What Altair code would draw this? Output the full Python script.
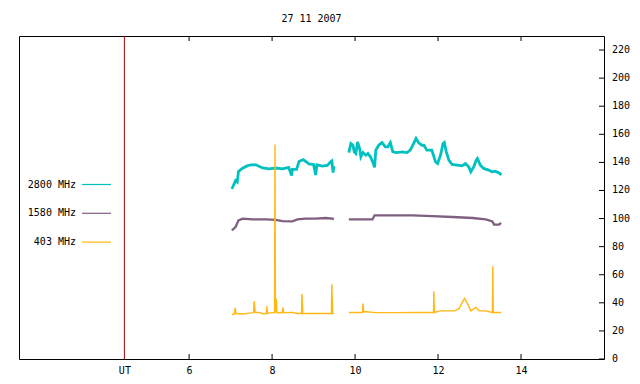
import altair as alt
import pandas as pd

# ---- data (hours UT, solar flux units) ----
t2800_a = [7.03, 7.06, 7.12, 7.16, 7.19, 7.29, 7.40, 7.49, 7.61, 7.77, 7.93, 8.09, 8.25, 8.40, 8.47, 8.49, 8.59,
           8.65, 8.75, 8.89, 9.00, 9.05, 9.08, 9.21, 9.33, 9.40, 9.44, 9.47, 9.49]
v2800_a = [121.2, 123.0, 127.0, 126.0, 133.5, 135.9, 137.5, 138.3, 138.3, 136.0, 135.4, 136.0, 135.4, 136.5, 130.7, 135.0, 135.0,
           140.6, 142.0, 139.0, 138.5, 131.0, 138.3, 137.3, 137.8, 140.1, 141.0, 132.8, 137.3]
t2800_b = [9.85, 9.90, 9.95, 9.98, 10.02, 10.06, 10.11, 10.14, 10.19, 10.26, 10.31, 10.37, 10.43, 10.47, 10.50,
           10.57, 10.65, 10.73, 10.79, 10.85, 10.91, 11.01, 11.13, 11.25, 11.33, 11.41, 11.47, 11.53, 11.61,
           11.66, 11.73, 11.85, 11.94, 11.99, 12.06, 12.12, 12.15, 12.20, 12.26, 12.34, 12.46, 12.58, 12.66,
           12.74, 12.79, 12.86, 12.92, 12.95, 13.02, 13.10, 13.22, 13.30, 13.38, 13.49, 13.52]
v2800_b = [147.0, 153.4, 152.2, 147.5, 146.3, 154.6, 149.9, 144.0, 147.0, 145.1, 146.3, 144.0, 140.0, 136.5, 148.7,
           152.2, 154.1, 151.1, 151.1, 154.1, 147.5, 147.0, 147.5, 147.0, 148.7, 153.4, 157.0, 154.1, 152.2,
           152.2, 148.7, 148.7, 140.3, 139.2, 145.1, 153.4, 154.1, 147.5, 141.6, 138.5, 138.0, 137.5, 139.2,
           136.8, 133.3, 136.8, 141.6, 142.8, 138.0, 135.7, 134.5, 133.3, 133.7, 132.1, 131.0]

t1580_a = [7.03, 7.12, 7.19, 7.29, 7.53, 7.85, 8.09, 8.25, 8.49, 8.61, 8.81, 9.05, 9.29, 9.45, 9.49]
v1580_a = [91.6, 94.0, 98.7, 99.9, 99.4, 99.4, 99.1, 98.2, 98.0, 99.4, 99.9, 99.9, 100.4, 99.9, 99.6]
t1580_b = [9.85, 10.10, 10.42, 10.47, 10.90, 11.38, 11.86, 12.35, 12.83, 13.15, 13.31, 13.35, 13.47, 13.52]
v1580_b = [99.4, 99.4, 99.4, 102.3, 102.3, 102.3, 101.8, 101.1, 100.4, 99.4, 98.0, 95.7, 95.7, 97.0]

t403_a = [7.03, 7.09, 7.11, 7.13, 7.30, 7.45, 7.55, 7.57, 7.59, 7.70, 7.80, 7.86, 7.87, 7.89, 8.00, 8.06, 8.07,
          8.08, 8.10, 8.12, 8.20, 8.25, 8.26, 8.28, 8.50, 8.60, 8.71, 8.72, 8.74, 9.00, 9.20, 9.43, 9.44, 9.46, 9.49]
v403_a = [31.7, 32.0, 36.4, 32.4, 32.0, 32.7, 33.0, 41.2, 33.1, 33.1, 32.0, 32.4, 37.6, 32.4, 33.0, 33.0, 152.7,
          33.0, 43.1, 33.0, 33.1, 33.0, 36.7, 33.0, 33.1, 32.4, 32.4, 46.2, 32.4, 32.4, 32.4, 32.4, 53.3, 32.4, 32.4]
t403_b = [9.85, 10.10, 10.18, 10.19, 10.21, 10.50, 11.00, 11.50, 11.89, 11.90, 11.91, 12.05, 12.40, 12.51,
          12.59, 12.64, 12.71, 12.79, 12.91, 12.99, 13.15, 13.31, 13.32, 13.33, 13.52]
v403_b = [33.1, 33.1, 33.1, 39.5, 33.8, 33.0, 33.0, 33.1, 33.1, 48.3, 33.1, 34.3, 34.3, 36.0,
          40.7, 43.1, 39.5, 34.3, 36.7, 34.3, 34.3, 33.1, 66.0, 33.1, 33.1]

series_names = ["2800 MHz", "1580 MHz", "403 MHz"]
series_colors = ["#00C0C0", "#7F5F80", "#FFB814"]
x_tick_values = [4.44, 6, 8, 10, 12, 14]
y_tick_values = [0, 20, 40, 60, 80, 100, 120, 140, 160, 180, 200, 220]
ut_hour = [4.44]
title_text = "27 11 2007"

# ---- build table ----
rows = []
for name, segs in [("2800 MHz", [(t2800_a, v2800_a), (t2800_b, v2800_b)]),
                   ("1580 MHz", [(t1580_a, v1580_a), (t1580_b, v1580_b)]),
                   ("403 MHz", [(t403_a, v403_a), (t403_b, v403_b)])]:
    for si, (ts, vs) in enumerate(segs):
        for t, v in zip(ts, vs):
            rows.append({"series": name, "seg": si, "t": t, "v": v})
df = pd.DataFrame(rows)

W, H = 585, 323
FONT = "DejaVu Sans Mono"

xscale = alt.Scale(domain=[1.9, 16], nice=False, zero=False)
yscale = alt.Scale(domain=[0, 230], nice=False)
cscale = alt.Scale(domain=series_names, range=series_colors)

x_axis = alt.Axis(values=x_tick_values, labelExpr="datum.value < 5 ? 'UT' : datum.label",
                  title=None, grid=False, ticks=False, domain=False, labelPadding=6,
                  labelFont=FONT, labelFontSize=10, labelColor="black", labelOverlap=False)

base = alt.Chart(df)

def line_layer(name, width):
    return base.transform_filter(alt.datum.series == name).mark_line(strokeWidth=width, interpolate="linear").encode(
        x=alt.X("t:Q", scale=xscale, axis=x_axis),
        y=alt.Y("v:Q", scale=yscale, axis=None),
        color=alt.Color("series:N", scale=cscale, legend=None),
        detail="seg:N",
    )

ut_rule = alt.Chart(pd.DataFrame({"t": ut_hour})).mark_rule(color="#A00000", strokeWidth=1).encode(
    x=alt.X("t:Q", scale=xscale, axis=x_axis))

tick_df = pd.DataFrame({"t": x_tick_values[1:]})
bottom_ticks = alt.Chart(tick_df).mark_rule(color="black").encode(
    x=alt.X("t:Q", scale=xscale, axis=x_axis), y=alt.value(H), y2=alt.value(H - 5))
top_ticks = alt.Chart(tick_df).mark_rule(color="black").encode(
    x=alt.X("t:Q", scale=xscale, axis=x_axis), y=alt.value(0), y2=alt.value(5))

ytick_df = pd.DataFrame({"v": y_tick_values})
right_ticks = alt.Chart(ytick_df).mark_rule(color="black").encode(
    y=alt.Y("v:Q", scale=yscale, axis=None), x=alt.value(W - 5), x2=alt.value(W))
right_labels = alt.Chart(ytick_df).mark_text(align="left", baseline="middle", font=FONT, fontSize=10,
                                             color="black").encode(
    y=alt.Y("v:Q", scale=yscale, axis=None), x=alt.value(W + 8), text="v:Q")

legend_layers = []
for i, (name, col) in enumerate(zip(series_names, series_colors)):
    yy = 148.5 + 28.8 * i
    legend_layers.append(
        alt.Chart(pd.DataFrame({"s": [name]})).mark_text(align="right", baseline="middle", font=FONT,
                                                        fontSize=10, color="black").encode(
            text="s:N", x=alt.value(57), y=alt.value(yy)))
    legend_layers.append(
        alt.Chart(pd.DataFrame({"s": [name]})).mark_rule(color=col, strokeWidth=1.2).encode(
            x=alt.value(63), x2=alt.value(92), y=alt.value(yy)))

chart = alt.layer(
    ut_rule,
    line_layer("2800 MHz", 2.8),
    line_layer("1580 MHz", 2.3),
    line_layer("403 MHz", 1.4),
    bottom_ticks, top_ticks, right_ticks, right_labels,
    *legend_layers,
).properties(
    width=W, height=H,
    background="white",
    title=alt.TitleParams(title_text, font=FONT, fontSize=10, fontWeight="normal", color="black",
                          anchor="middle", offset=12),
    autosize=alt.AutoSizeParams(type="none"),
    padding={"left": 11, "top": 28, "right": 28, "bottom": 16},
).configure_view(stroke="black", strokeWidth=1, strokeOpacity=1)

chart.save("out.html", embed_options={"renderer": "svg", "actions": False})
